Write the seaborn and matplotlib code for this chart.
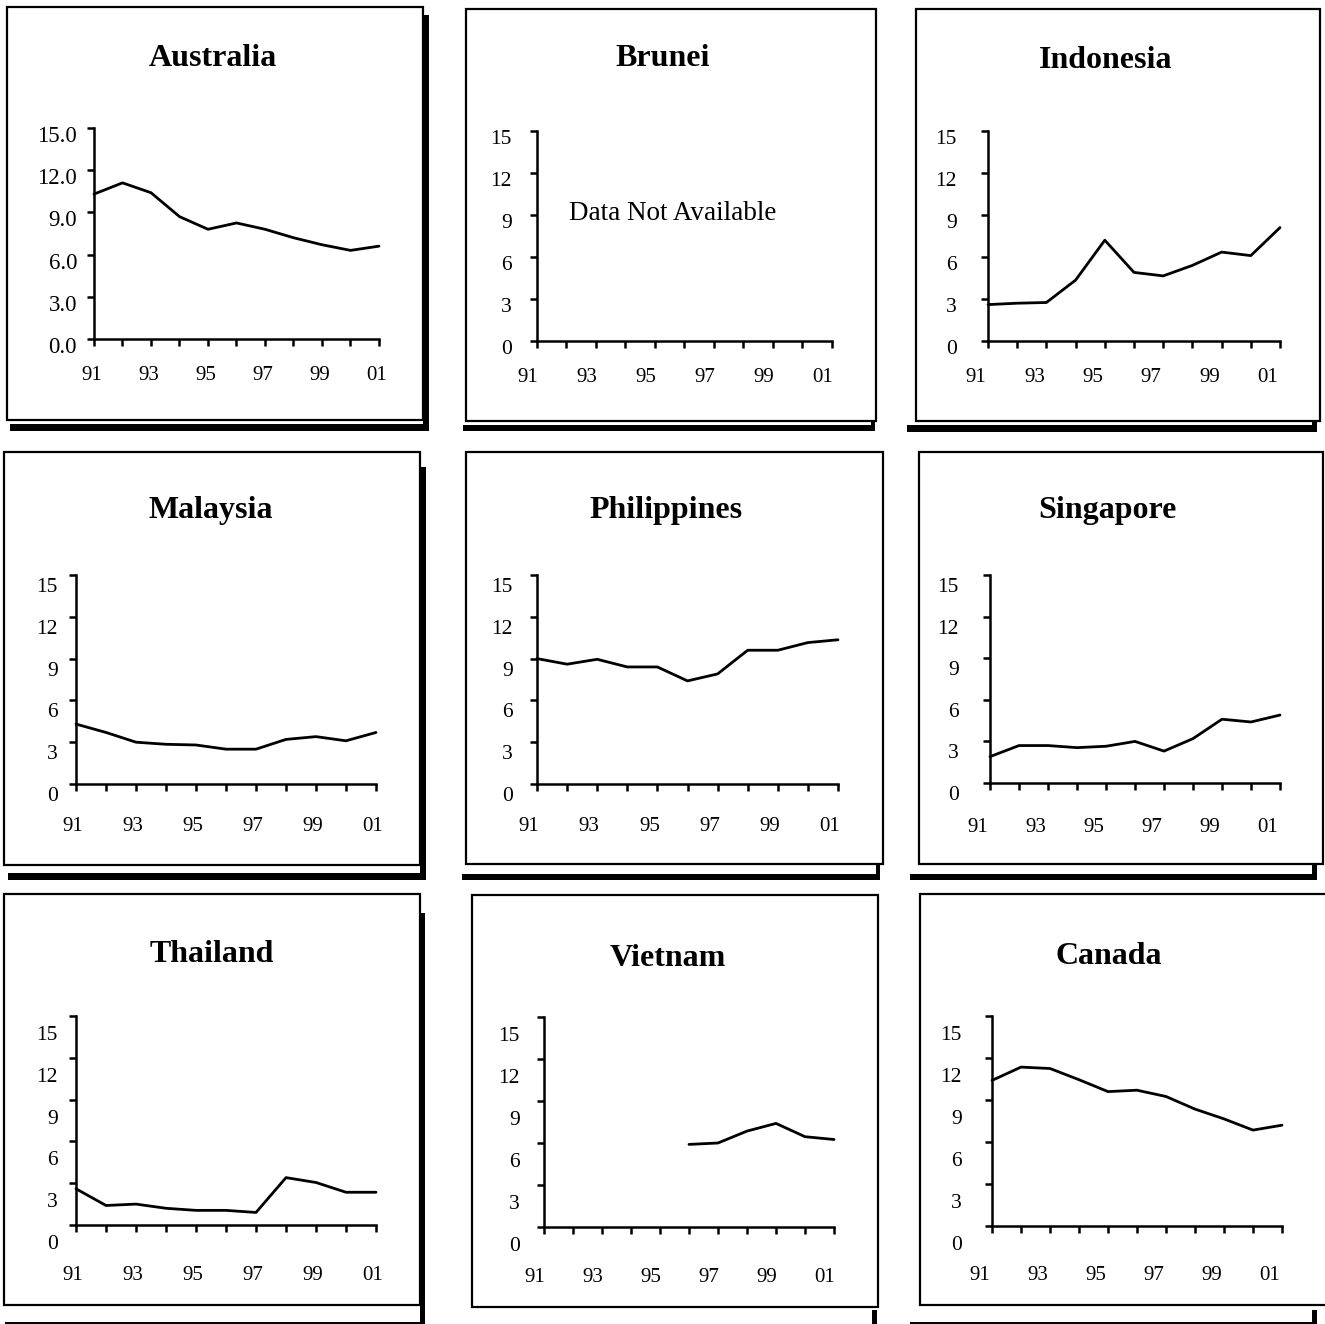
import numpy as np
import pandas as pd
import matplotlib
matplotlib.use("Agg")
import matplotlib.pyplot as plt
import seaborn as sns
from matplotlib.patches import Rectangle
from matplotlib.transforms import ScaledTranslation

# ---------------- data ----------------
years = list(range(1991, 2002))
x_tick_labels = ["91", "", "93", "", "95", "", "97", "", "99", "", "01"]
y_ticks = [0, 3, 6, 9, 12, 15]

australia = [10.3, 11.1, 10.4, 8.7, 7.8, 8.25, 7.8, 7.2, 6.7, 6.3, 6.6]
brunei = [np.nan] * 11  # Data Not Available
indonesia = [2.6, 2.7, 2.75, 4.35, 7.2, 4.9, 4.65, 5.4, 6.35, 6.1, 8.1]
malaysia = [4.3, 3.7, 3.0, 2.85, 2.8, 2.5, 2.5, 3.2, 3.4, 3.1, 3.7]
philippines = [9.0, 8.6, 8.95, 8.4, 8.4, 7.4, 7.9, 9.6, 9.6, 10.15, 10.35]
singapore = [1.9, 2.7, 2.7, 2.55, 2.65, 3.0, 2.3, 3.2, 4.6, 4.4, 4.9]
thailand = [2.6, 1.4, 1.5, 1.2, 1.05, 1.05, 0.9, 3.4, 3.05, 2.35, 2.35]
vietnam = [np.nan, np.nan, np.nan, np.nan, np.nan, 5.9, 6.0, 6.85, 7.4, 6.45, 6.25]
canada = [10.4, 11.35, 11.25, 10.45, 9.6, 9.7, 9.25, 8.35, 7.65, 6.85, 7.2]

titles = ["Australia", "Brunei", "Indonesia", "Malaysia", "Philippines",
          "Singapore", "Thailand", "Vietnam", "Canada"]
series = [australia, brunei, indonesia, malaysia, philippines,
          singapore, thailand, vietnam, canada]
no_data_text = "Data Not Available"

# ---------------- layout (pixels, top-left origin) ----------------
W, H = 1325, 1324
layout = {
    "Australia":   dict(ax=(94, 128, 379, 339), title=(213, 58), box=(7, 7, 423, 420),
                        shadows=[(423, 15, 429, 431), (10, 424, 429, 431)],
                        xdx=-2, xdist=35, ygap=17, ydy=6, fmt="{:.1f}", yfs=16.5),
    "Brunei":      dict(ax=(537, 131, 832, 341), title=(663, 58), box=(466, 9, 876, 421),
                        shadows=[(463, 425, 874, 431), (871, 421, 875, 431)],
                        xdx=-9, xdist=35, ygap=25, ydy=6, fmt="{:.0f}", yfs=15.5),
    "Indonesia":   dict(ax=(988, 131, 1280, 341), title=(1106, 60), box=(916, 9, 1320, 421),
                        shadows=[(907, 425, 1317, 432), (1312, 421, 1317, 432)],
                        xdx=-12, xdist=34, ygap=31, ydy=6, fmt="{:.0f}", yfs=15.5),
    "Malaysia":    dict(ax=(76, 575, 376, 784), title=(211, 510), box=(4, 452, 420, 865),
                        shadows=[(420, 467, 426, 880), (8, 873, 426, 880)],
                        xdx=-3, xdist=41, ygap=18, ydy=10, fmt="{:.0f}", yfs=15.5),
    "Philippines": dict(ax=(537, 575, 838, 784), title=(666, 510), box=(466, 452, 883, 864),
                        shadows=[(462, 874, 880, 880), (876, 864, 880, 880)],
                        xdx=-8, xdist=41, ygap=24, ydy=10, fmt="{:.0f}", yfs=15.5),
    "Singapore":   dict(ax=(990, 575, 1280, 783), title=(1107, 510), box=(919, 452, 1323, 864),
                        shadows=[(910, 874, 1317, 880), (1312, 864, 1317, 880)],
                        xdx=-12, xdist=42, ygap=31, ydy=10, fmt="{:.0f}", yfs=15.5),
    "Thailand":    dict(ax=(76, 1016, 376, 1225), title=(212, 955), box=(4, 894, 420, 1305),
                        shadows=[(420, 913, 425, 1330), (5, 1322, 425, 1330)],
                        xdx=-3, xdist=48, ygap=18, ydy=17, fmt="{:.0f}", yfs=15.5),
    "Vietnam":     dict(ax=(544, 1017, 834, 1227), title=(668, 958), box=(472, 895, 878, 1307),
                        shadows=[(872, 1310, 877, 1330)],
                        xdx=-9, xdist=48, ygap=24, ydy=17, fmt="{:.0f}", yfs=15.5),
    "Canada":      dict(ax=(992, 1016, 1282, 1226), title=(1109, 957), box=(920, 894, 1327, 1305),
                        shadows=[(1312, 1310, 1317, 1330), (910, 1322, 1317, 1330)],
                        xdx=-12, xdist=47, ygap=30, ydy=17, fmt="{:.0f}", yfs=15.5),
}

sns.set_theme(style="white")
plt.rcParams["font.family"] = ["Liberation Serif", "DejaVu Serif"]

fig = plt.figure(figsize=(W / 100, H / 100), dpi=100)
fig.patch.set_facecolor("white")


def frect(x0, y0, x1, y1):
    return (x0 / W, 1 - y1 / H, (x1 - x0) / W, (y1 - y0) / H)


TICK_PX = 7
for title, vals in zip(titles, series):
    L = layout[title]
    # panel shadow and box
    for (sx0, sy0, sx1, sy1) in L["shadows"]:
        l, b, w, h = frect(sx0, sy0, sx1, sy1)
        fig.add_artist(Rectangle((l, b), w, h, transform=fig.transFigure,
                                 facecolor="black", edgecolor="none", zorder=-3))
    bx0, by0, bx1, by1 = L["box"]
    l, b, w, h = frect(bx0, by0, bx1, by1)
    fig.add_artist(Rectangle((l, b), w, h, transform=fig.transFigure,
                             facecolor="white", edgecolor="black", linewidth=1.6, zorder=-2))
    # title
    tx, ty = L["title"]
    fig.text(tx / W, 1 - ty / H, title, ha="center", va="center",
             fontsize=23, fontweight="bold", color="black")

    # axes
    ax = fig.add_axes(frect(*L["ax"]))
    ax.set_facecolor("none")
    df = pd.DataFrame({"year": years, "value": vals}).dropna()
    if len(df):
        sns.lineplot(data=df, x="year", y="value", ax=ax, color="black",
                     linewidth=2.0, clip_on=False, legend=False)
    else:
        ax.text(1992.1, 9.1, no_data_text, ha="left", va="center",
                fontsize=19.5, color="black")

    ax.set_xlim(1991, 2001)
    ax.set_ylim(0, 15)
    ax.set_xlabel("")
    ax.set_ylabel("")
    for s in ["top", "right"]:
        ax.spines[s].set_visible(False)
    for s in ["left", "bottom"]:
        ax.spines[s].set_visible(True)
        ax.spines[s].set_color("black")
        ax.spines[s].set_linewidth(1.8)
    ax.grid(False)

    ax.set_xticks(years)
    ax.set_xticklabels(x_tick_labels)
    ax.set_yticks(y_ticks)
    ax.set_yticklabels([L["fmt"].format(v) for v in y_ticks])

    xpad_px = L["xdist"] - 7.5 - TICK_PX
    ypad_px = L["ygap"] - TICK_PX
    ax.tick_params(axis="x", direction="out", length=TICK_PX * 0.72, width=1.8,
                   color="black", labelcolor="black", labelsize=15,
                   pad=xpad_px * 0.72, bottom=True)
    ax.tick_params(axis="y", direction="out", length=TICK_PX * 0.72, width=1.8,
                   color="black", labelcolor="black", labelsize=L["yfs"],
                   pad=ypad_px * 0.72, left=True)

    xoff = ScaledTranslation(L["xdx"] / 100, 0, fig.dpi_scale_trans)
    for lbl in ax.get_xticklabels():
        lbl.set_transform(lbl.get_transform() + xoff)
    yoff = ScaledTranslation(0, -L["ydy"] / 100, fig.dpi_scale_trans)
    for lbl in ax.get_yticklabels():
        lbl.set_transform(lbl.get_transform() + yoff)

fig.savefig("out.png", dpi=100, facecolor="white")
